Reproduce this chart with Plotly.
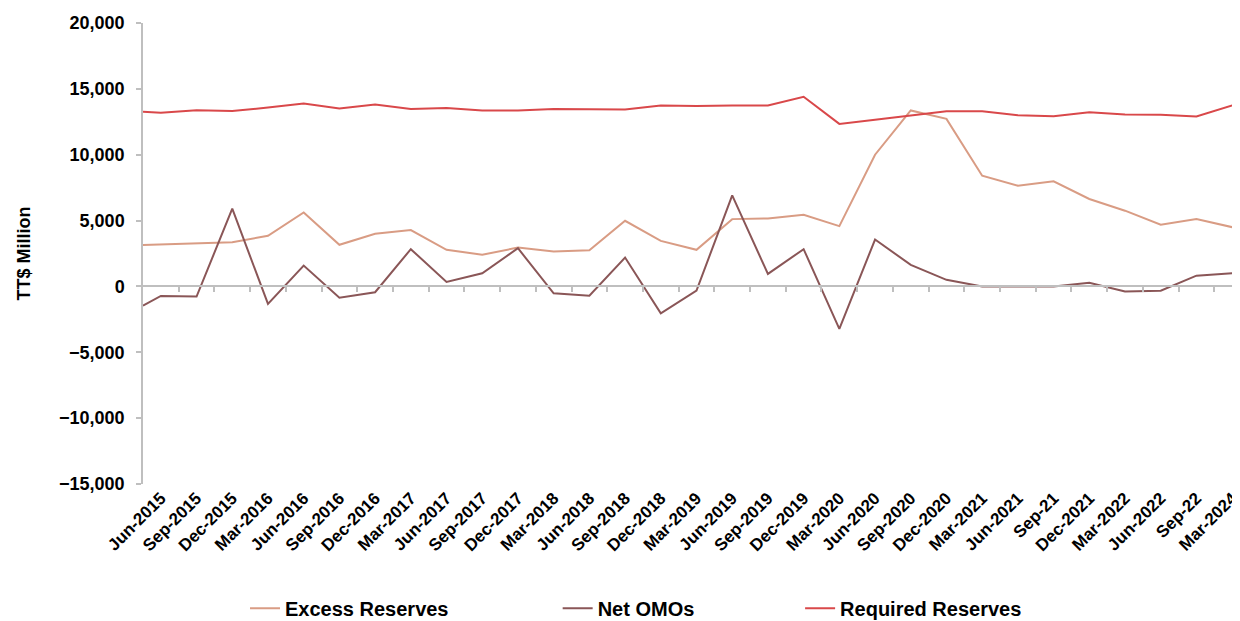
import plotly.graph_objects as go

categories = ["Jun-2015", "Sep-2015", "Dec-2015", "Mar-2016", "Jun-2016", "Sep-2016",
              "Dec-2016", "Mar-2017", "Jun-2017", "Sep-2017", "Dec-2017", "Mar-2018",
              "Jun-2018", "Sep-2018", "Dec-2018", "Mar-2019", "Jun-2019", "Sep-2019",
              "Dec-2019", "Mar-2020", "Jun-2020", "Sep-2020", "Dec-2020", "Mar-2021",
              "Jun-2021", "Sep-21", "Dec-2021", "Mar-2022", "Jun-2022", "Sep-22", "Mar-2024"]

# first value is the lead-in point drawn at the left edge of the axis (half a category before Jun-2015)
excess_reserves = [3150, 3200, 3250, 3350, 3850, 5620, 3160, 4000, 4280, 2780, 2400, 2950,
                   2650, 2750, 4980, 3460, 2780, 5110, 5160, 5440, 4580, 10000, 13360, 12720,
                   8410, 7650, 7980, 6640, 5750, 4680, 5110, 4500]
net_omos = [-1460, -720, -770, 5900, -1330, 1580, -850, -440, 2830, 340, 1000, 2900,
            -520, -700, 2190, -2040, -320, 6910, 950, 2830, -3220, 3560, 1640, 500,
            0, 0, 0, 280, -390, -320, 820, 1000]
required_reserves = [13260, 13180, 13380, 13320, 13580, 13890, 13510, 13810, 13480, 13540,
                     13350, 13350, 13470, 13430, 13430, 13740, 13700, 13740, 13740, 14400,
                     12340, 12650, 13000, 13300, 13300, 13000, 12920, 13230, 13050, 13030,
                     12900, 13740]

y_ticks = [-15000, -10000, -5000, 0, 5000, 10000, 15000, 20000]

x_pos = [-0.5] + list(range(len(categories)))
x_range = [-0.5, len(categories) - 1 + 0.22]
y_range = [-15000, 20000]

FONT = "Liberation Sans, Arial, sans-serif"
AXIS_GRAY = "#BFBFBF"

fig = go.Figure()
fig.add_trace(go.Scatter(x=x_pos, y=excess_reserves, mode="lines", name="Excess Reserves",
                         line=dict(color="#D99C84", width=2), legend="legend"))
fig.add_trace(go.Scatter(x=x_pos, y=net_omos, mode="lines", name="Net OMOs",
                         line=dict(color="#8A5657", width=2), legend="legend2"))
fig.add_trace(go.Scatter(x=x_pos, y=required_reserves, mode="lines", name="Required Reserves",
                         line=dict(color="#D9484A", width=2), legend="legend3"))
# invisible helper trace so the zero-crossing category axis is drawn
fig.add_trace(go.Scatter(x=x_pos, y=net_omos, xaxis="x2", mode="lines",
                         line=dict(width=0), opacity=0, showlegend=False, hoverinfo="skip"))

zero_pos = (0 - y_range[0]) / (y_range[1] - y_range[0])
half_ticks = [i + 0.5 for i in range(len(categories) - 1)]

leg_font = dict(family=FONT, size=20, color="#000000", weight=700)
legend_common = dict(orientation="h", yref="container", y=0.021, yanchor="middle",
                     xanchor="left", font=leg_font, bgcolor="rgba(0,0,0,0)",
                     itemwidth=30)

# the page body adds an 8px offset, so the figure is sized 8px smaller
fig.update_layout(
    width=1232, height=613,
    margin=dict(l=135, r=0, t=15, b=137, autoexpand=False),
    paper_bgcolor="white", plot_bgcolor="white",
    xaxis=dict(range=x_range, tickmode="array", tickvals=list(range(len(categories))),
               ticktext=categories, tickangle=-45, showline=False, showgrid=False,
               zeroline=False, ticks="", automargin=False, ticklabeloverflow="allow",
               tickfont=dict(family=FONT, size=17, color="#000000", weight=700)),
    xaxis2=dict(range=x_range, overlaying="x", anchor="free", position=zero_pos,
                side="bottom", showline=True, linecolor=AXIS_GRAY, linewidth=1.5,
                ticks="outside", ticklen=5, tickcolor=AXIS_GRAY, tickwidth=1.5,
                tickmode="array", tickvals=half_ticks, showticklabels=False,
                showgrid=False, zeroline=False, automargin=False),
    yaxis=dict(range=y_range, tickmode="array", tickvals=y_ticks,
               tickformat=",d", showline=True, linecolor=AXIS_GRAY, linewidth=1.5,
               ticks="outside", ticklen=5, tickcolor=AXIS_GRAY, tickwidth=1.5,
               ticklabelstandoff=8, automargin=False,
               showgrid=False, zeroline=False,
               tickfont=dict(family=FONT, size=18, color="#000000", weight=700),
               title=dict(text="TT$ Million", standoff=24,
                          font=dict(family=FONT, size=18, color="#000000", weight=700))),
    legend=dict(x=0.093, **legend_common),
    legend2=dict(x=0.378, **legend_common),
    legend3=dict(x=0.599, **legend_common),
    showlegend=True,
)

fig.write_html("out.html")
